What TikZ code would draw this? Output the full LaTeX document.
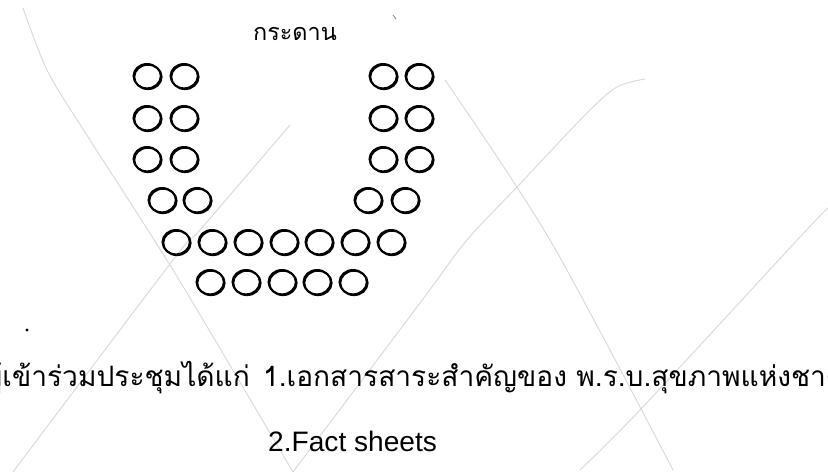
\documentclass[tikz,border=0pt]{standalone}
\usepackage{fontspec}
\setmainfont{Liberation Sans}
\newfontfamily\thaifont[Script=Thai]{Loma}
\usetikzlibrary{shapes.geometric}

\tikzset{
  seat/.style={ellipse, draw, line width=1.4pt, minimum width=0.82cm,
    minimum height=0.73cm, inner sep=0pt,
    preaction={draw, line width=1.7pt, transform canvas={shift={(0.8pt,-0.8pt)}}}},
  scratch/.style={gray!30, line width=0.8pt, line cap=round},
  label/.style={inner sep=0pt}
}

\begin{document}
\begin{tikzpicture}[x=0.03cm, y=-0.03cm]
  \useasboundingbox (0,0) rectangle (828,472);
  \clip (0,0) rectangle (828,472);
  % faint lines of the scan
  \draw[scratch] plot[smooth] coordinates {(23,8) (48,72) (90,140) (137,213) (187,293) (293,472)};
  \draw[scratch] plot[smooth] coordinates {(290,125) (200,230) (173,260) (13,472)};
  \draw[scratch] plot[smooth] coordinates {(645,79) (617,87) (587,113) (517,187) (467,240) (420,303) (293,472)};
  \draw[scratch] plot[smooth] coordinates {(445,80) (550,240) (673,470)};
  \draw[scratch] plot[smooth] coordinates {(828,208) (800,237) (640,410) (580,470)};
  \fill (27,330) circle (1.6);
  \draw[gray, line width=0.6pt] (393,15) -- (396,19);
  % board
  \node[label, font=\thaifont\fontsize{20}{24}\selectfont] (board) at (295,34) {กระดาน};
  % seats, rows of two on each side
  \foreach \y [count=\r] in {76,118,159} {
    \foreach \x [count=\c] in {147,184,383,419}
      \node[seat] (s\r-\c) at (\x,\y) {};
  }
  \foreach \x [count=\c] in {162,197,368,405}
    \node[seat] (s4-\c) at (\x,200) {};
  % seats, the bottom of the U
  \foreach \x [count=\c] in {176,212,248,284,319,355,391}
    \node[seat] (s5-\c) at (\x,242) {};
  \foreach \x [count=\c] in {210,246,282,317,353}
    \node[seat] (s6-\c) at (\x,282) {};
  % documents
  \node[label, anchor=base east, font=\thaifont\fontsize{24}{28}\selectfont] (members) at (250,386) {ผู้เข้าร่วมประชุมได้แก่};
  \node[label, anchor=base west, font=\thaifont\fontsize{24}{28}\selectfont] (doc1) at (263,386) {1.เอกสารสาระสำคัญของ พ.ร.บ.สุขภาพแห่งชาติ};
  \node[label, anchor=base west, font=\fontsize{24}{28}\selectfont] (doc2) at (268,451) {2.Fact sheets};
\end{tikzpicture}
\end{document}
